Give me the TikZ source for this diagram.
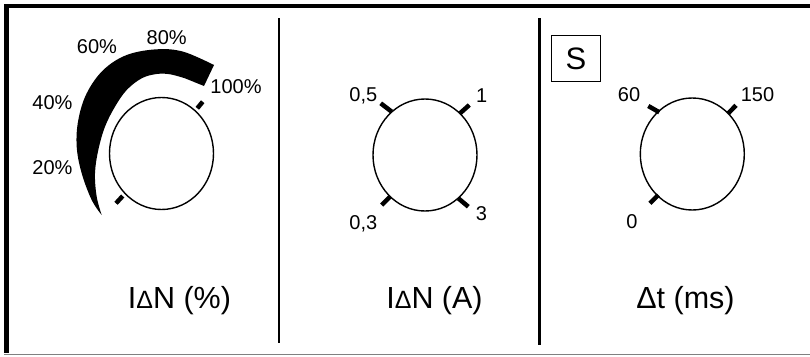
\documentclass[tikz,border=0pt]{standalone}
\usepackage{fontspec}
\setmainfont{Liberation Sans}
\usetikzlibrary{shapes.geometric}
\begin{document}
\begin{tikzpicture}[x=1pt,y=-1pt,
 dial/.style={draw,line width=1.4pt,ellipse,minimum width=104pt,minimum height=112pt,inner sep=0pt},
 tk/.style={line width=4.5pt},
 lab/.style={font=\fontsize{20}{24}\selectfont,inner sep=0pt},
 captxt/.style={font=\fontsize{30.5}{34}\selectfont,inner sep=0pt},
 sbox/.style={draw,line width=1.4pt,minimum width=49pt,minimum height=46pt,inner sep=0pt,font=\fontsize{31}{34}\selectfont}]
\useasboundingbox (0,0) rectangle (810,356);
% frame
\draw[line width=3.5pt] (4,5.75) -- (810,5.75);
\draw[line width=4.5pt] (6.5,4) -- (6.5,353);
\draw[gray,line width=1.3pt] (4,354.6) -- (810,354.6);
\draw[line width=2.5pt] (279,18) -- (279,343);
\draw[line width=2.5pt] (539.5,18) -- (539.5,345);
% left dial band
\fill (101.7,215) -- plot[smooth,tension=0.6] coordinates {(101.7,215) (91.7,200) (81.7,173.3) (76.7,146.7) (78.3,120) (86.7,93.3) (103.3,70) (126.7,55) (156.7,49.3) (183.3,51.7) (214,65)}
 -- (204,86) -- plot[smooth,tension=0.6] coordinates {(185,78.3) (170,74.3) (156.7,74) (141.7,78.3) (126.7,90) (115,106.7) (105,126.7) (98.3,150) (95,173.3) (96.7,196.7) (101.7,215)} -- cycle;
% dials
\node[dial] (d1) at (161.5,153.5) {};
\node[dial] (d2) at (425,155) {};
\node[dial] (d3) at (692.3,154) {};
% ticks
\draw[tk] (197.3,108.3) -- (202.7,101.7);
\draw[tk] (116,203.3) -- (122.7,196);
\draw[tk] (380.7,103.3) -- (391.7,111.7);
\draw[tk] (469.3,105) -- (460,113.3);
\draw[tk] (381.7,205) -- (390,196.7);
\draw[tk] (468.3,206.7) -- (458.3,198.3);
\draw[tk] (648.3,106) -- (659.3,112.3);
\draw[tk] (736,105.3) -- (728.3,113.3);
\draw[tk] (650,203.3) -- (658.3,195);
% labels left
\node[lab] (p20) at (52.5,168) {20\%};
\node[lab] (p40) at (52.5,102.5) {40\%};
\node[lab] (p60) at (97,47) {60\%};
\node[lab] (p80) at (166.7,37.5) {80\%};
\node[lab] (p100) at (236,86.5) {100\%};
% labels middle
\node[lab] (m05) at (363.3,95.5) {0,5};
\node[lab] (m1) at (481.7,95.5) {1};
\node[lab] (m03) at (363.3,224) {0,3};
\node[lab] (m3) at (481.5,214) {3};
% labels right
\node[lab] (r60) at (629,95) {60};
\node[lab] (r150) at (757.5,95) {150};
\node[lab] (r0) at (632,221.7) {0};
\node[sbox] (s) at (575.9,58.4) {S};
% captions
\node[captxt] (c1) at (179.5,301) {I{\fontsize{25}{28}\selectfont Δ}N (\%)};
\node[captxt] (c2) at (434.5,301) {I{\fontsize{25}{28}\selectfont Δ}N (A)};
\node[captxt] (c3) at (685.5,301) {Δt (ms)};
\end{tikzpicture}
\end{document}
